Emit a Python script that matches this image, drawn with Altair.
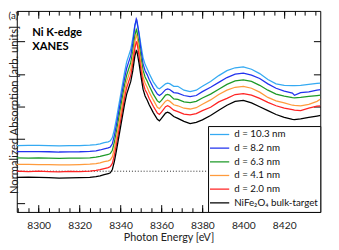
import altair as alt
import pandas as pd

# ---------------- data ----------------
energy = [8289, 8295, 8300, 8305, 8310, 8315, 8320, 8325, 8328, 8330, 8332, 8334, 8335,
          8336, 8337, 8338, 8339, 8340, 8341, 8342, 8343, 8344, 8345, 8346, 8347, 8347.7,
          8348, 8349, 8350, 8351, 8352, 8353, 8354, 8356, 8358, 8359, 8360, 8362, 8363,
          8364, 8366, 8368, 8371, 8374, 8377, 8380, 8384, 8388, 8392, 8396, 8400, 8404,
          8408, 8412, 8416, 8420, 8424, 8425, 8428, 8432, 8436, 8437.8]

d_10_3 = [0.396, 0.398, 0.398, 0.396, 0.392, 0.393, 0.396, 0.402, 0.411, 0.423, 0.441, 0.453, 0.468,
          0.518, 0.646, 0.811, 0.991, 1.171, 1.351, 1.532, 1.685, 1.782, 1.880, 2.053, 2.255, 2.315,
          2.293, 2.135, 1.940, 1.752, 1.647, 1.580, 1.505, 1.377, 1.287, 1.272, 1.294, 1.347, 1.359,
          1.350, 1.309, 1.309, 1.249, 1.227, 1.249, 1.309, 1.384, 1.474, 1.550, 1.595, 1.610, 1.572,
          1.505, 1.414, 1.347, 1.324, 1.320, 1.320, 1.324, 1.339, 1.354, 1.359]

d_8_2 = [0.303, 0.302, 0.303, 0.300, 0.296, 0.299, 0.300, 0.306, 0.315, 0.327, 0.345, 0.359, 0.374,
         0.423, 0.551, 0.716, 0.896, 1.077, 1.257, 1.437, 1.587, 1.685, 1.782, 1.970, 2.240, 2.350,
         2.330, 2.120, 1.865, 1.655, 1.550, 1.489, 1.414, 1.287, 1.189, 1.167, 1.189, 1.257, 1.269,
         1.260, 1.212, 1.204, 1.167, 1.149, 1.167, 1.227, 1.294, 1.369, 1.444, 1.497, 1.512, 1.482,
         1.429, 1.347, 1.279, 1.234, 1.204, 1.170, 1.212, 1.224, 1.249, 1.257]

d_6_3 = [0.204, 0.203, 0.204, 0.201, 0.197, 0.200, 0.201, 0.207, 0.216, 0.228, 0.245, 0.258, 0.273,
         0.323, 0.450, 0.616, 0.796, 0.976, 1.156, 1.336, 1.482, 1.580, 1.677, 1.850, 2.090, 2.185,
         2.165, 1.970, 1.752, 1.557, 1.452, 1.392, 1.317, 1.189, 1.084, 1.059, 1.092, 1.174, 1.185,
         1.174, 1.114, 1.107, 1.069, 1.059, 1.077, 1.129, 1.189, 1.264, 1.339, 1.392, 1.407, 1.384,
         1.324, 1.249, 1.189, 1.159, 1.134, 1.132, 1.137, 1.152, 1.167, 1.174]

d_4_1 = [0.105, 0.104, 0.102, 0.102, 0.096, 0.099, 0.102, 0.108, 0.117, 0.129, 0.146, 0.159, 0.174,
         0.224, 0.351, 0.517, 0.697, 0.877, 1.057, 1.237, 1.384, 1.482, 1.580, 1.752, 2.000, 2.101,
         2.083, 1.880, 1.655, 1.459, 1.354, 1.294, 1.219, 1.099, 0.986, 0.964, 1.002, 1.080, 1.095,
         1.080, 1.024, 1.009, 0.971, 0.959, 0.979, 1.032, 1.099, 1.182, 1.249, 1.294, 1.309, 1.279,
         1.219, 1.137, 1.084, 1.054, 1.017, 1.014, 1.009, 1.032, 1.077, 1.114]

d_2_0 = [0.003, -0.006, 0.003, -0.005, -0.011, -0.003, -0.008, 0.003, 0.012, 0.024, 0.041, 0.056, 0.071,
         0.120, 0.248, 0.413, 0.593, 0.773, 0.953, 1.134, 1.287, 1.384, 1.482, 1.655, 1.895, 1.995,
         1.985, 1.790, 1.557, 1.362, 1.257, 1.197, 1.122, 1.002, 0.896, 0.874, 0.911, 0.994, 1.009,
         0.994, 0.941, 0.919, 0.881, 0.869, 0.889, 0.934, 0.986, 1.069, 1.122, 1.182, 1.197, 1.174,
         1.122, 1.062, 1.009, 0.974, 0.949, 0.941, 0.934, 0.971, 1.002, 1.009]

bulk = [-0.095, -0.093, -0.096, -0.098, -0.105, -0.102, -0.099, -0.095, -0.084, -0.072, -0.054, -0.039, -0.024,
        0.026, 0.153, 0.318, 0.498, 0.679, 0.859, 1.039, 1.189, 1.287, 1.384, 1.550, 1.775, 1.860,
        1.850, 1.670, 1.459, 1.264, 1.159, 1.099, 1.024, 0.904, 0.799, 0.776, 0.814, 0.896, 0.911,
        0.896, 0.844, 0.814, 0.769, 0.734, 0.754, 0.791, 0.859, 0.941, 1.017, 1.077, 1.092, 1.054,
        0.994, 0.934, 0.874, 0.829, 0.799, 0.796, 0.806, 0.829, 0.851, 0.859]

series_names = ["d = 10.3 nm", "d = 8.2 nm", "d = 6.3 nm", "d = 4.1 nm", "d = 2.0 nm",
                "NiFe\u2082O\u2084 bulk-target"]
series_values = [d_10_3, d_8_2, d_6_3, d_4_1, d_2_0, bulk]
series_colors = ["#35AAF2", "#2233EE", "#1E9A28", "#FF9B3D", "#FF2424", "#000000"]

x_major = [8300, 8320, 8340, 8360, 8380, 8400, 8420]
x_minor = [8290, 8295, 8300, 8305, 8310, 8315, 8320, 8325, 8330, 8335, 8340, 8345, 8350,
           8355, 8360, 8365, 8370, 8375, 8380, 8385, 8390, 8395, 8400, 8405, 8410, 8415,
           8420, 8425, 8430, 8435]
y_ticks = [-0.5, 0.0, 0.5, 1.0, 1.5, 2.0]
x_domain = [8289.3, 8437.6]
y_domain = [-0.628, 2.471]

baseline_level = [0.0]
annot_text = ["Ni K-edge", "XANES"]
annot_x = [8296.8, 8296.8]
annot_y = [2.086, 1.869]
panel_label = "(a)"

# ---------------- tables ----------------
rows = []
for k, (name, vals) in enumerate(zip(series_names, series_values)):
    for e, v in zip(energy, vals):
        rows.append({"energy": e, "absorption": v, "sample": name, "k": k})
df = pd.DataFrame(rows)
base_df = pd.DataFrame({"level": baseline_level})
annot_df = pd.DataFrame({"x": annot_x, "y": annot_y, "t": annot_text})
panel_df = pd.DataFrame({"t": [panel_label]})

FONT = "Lato"
W, H = 311, 206
xs = alt.Scale(domain=x_domain, nice=False, zero=False)
ys = alt.Scale(domain=y_domain, nice=False, zero=False)

# ---------------- main lines ----------------
lines = alt.Chart(df).mark_line(strokeWidth=1.3, clip=True).encode(
    x=alt.X("energy:Q", scale=xs, axis=alt.Axis(
        orient="bottom", values=x_major, format="d", ticks=False, tickSize=0, domain=False,
        grid=False, labelFont=FONT, labelFontSize=10.5, labelColor="#222",
        labelBaseline="alphabetic", labelPadding=17, labelFlush=False,
        title="Photon Energy [eV]", titleFont=FONT, titleFontSize=11,
        titleFontWeight="normal", titleColor="#222", titleBaseline="alphabetic", titleY=29.3)),
    y=alt.Y("absorption:Q", scale=ys, axis=alt.Axis(
        orient="left", labels=False, ticks=False, domain=False, grid=False,
        title="Normalized Absorption [arb. units]", titleFont=FONT, titleFontSize=11.5,
        titleFontWeight="normal", titleColor="#222", titleAngle=270,
        titleBaseline="alphabetic", titleAlign="center", titleX=0.5, titleY=101)),
    color=alt.Color("sample:N", sort=series_names,
                    scale=alt.Scale(domain=series_names, range=series_colors),
                    legend=alt.Legend(
                        title=None, orient="bottom-right", offset=0, padding=2,
                        fillColor="white", strokeColor="black",
                        symbolType="M-2.07,0H2.07", symbolSize=100, symbolStrokeWidth=1.3,
                        symbolOffset=3.35, labelOffset=9.5, labelFont=FONT,
                        labelFontSize=10, labelColor="#111", labelLimit=300,
                        clipHeight=13.26, rowPadding=0, columnPadding=0)),
    order=alt.Order("k:Q"),
    detail="k:N",
)

def tick_axis(orient, values, size, offset=0):
    return alt.Axis(orient=orient, values=values, tickSize=size, offset=offset,
                    labels=False, domain=False, grid=False, title=None,
                    tickColor="black", tickWidth=1)

def tick_layer(xa, ya):
    return alt.Chart(df).mark_line(opacity=0, strokeWidth=0).encode(
        x=alt.X("energy:Q", scale=xs, axis=xa),
        y=alt.Y("absorption:Q", scale=ys, axis=ya),
    )

# bottom / left ticks point inward through a negative length expression;
# top / right ticks are bottom / left axes moved across the plot.
t1 = tick_layer(tick_axis("bottom", x_major, alt.ExprRef(expr="-7.5")),
                tick_axis("left", y_ticks, alt.ExprRef(expr="-8")))
t2 = tick_layer(tick_axis("bottom", x_minor, alt.ExprRef(expr="-4.3")),
                tick_axis("left", y_ticks, 7, offset=-W))
t3 = tick_layer(tick_axis("bottom", x_major, 7.5, offset=-H), None)
t4 = tick_layer(tick_axis("bottom", x_minor, 4.3, offset=-H), None)

dotted = alt.Chart(base_df).mark_rule(strokeDash=[1, 2], color="#222", strokeWidth=1).encode(
    y=alt.Y("level:Q", scale=ys, axis=None))

annot = alt.Chart(annot_df).mark_text(font=FONT, fontWeight="bold", fontSize=11.5,
                                      align="left", baseline="alphabetic", color="black").encode(
    x=alt.X("x:Q", scale=xs, axis=None), y=alt.Y("y:Q", scale=ys, axis=None), text="t:N")

panel = alt.Chart(panel_df).mark_text(font=FONT, fontSize=10, align="left",
                                      baseline="alphabetic", color="#222").encode(
    x=alt.value(-8.5), y=alt.value(8), text="t:N")

chart = alt.layer(dotted, lines, t1, t2, t3, t4, annot, panel).resolve_axis(
    x="independent", y="independent"
).properties(
    width=W, height=H,
    autosize=alt.AutoSizeParams(type="none"),
    padding={"left": 9, "top": 0, "right": 11, "bottom": 36},
).configure_view(stroke="black", strokeWidth=1, fill=None)

chart.save("out.html", embed_options={"renderer": "svg", "actions": False})
